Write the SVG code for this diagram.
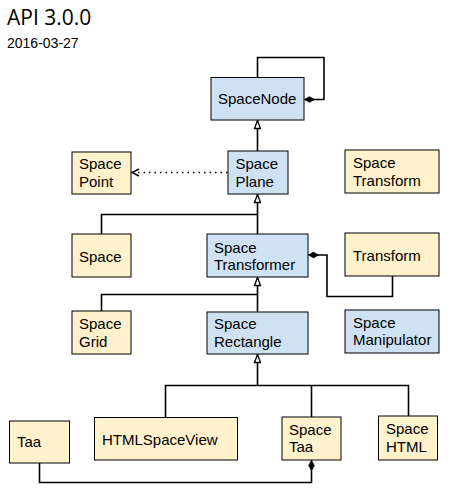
<svg xmlns="http://www.w3.org/2000/svg" width="457" height="491" viewBox="0 0 457 491">
<style>
.y{fill:#fff2cc;stroke:#000;stroke-width:1}
.b{fill:#cfe2f3;stroke:#000;stroke-width:1}
text{font-family:"Liberation Sans",Arial,sans-serif;font-size:15px;fill:#000}
.c{fill:none;stroke:#000;stroke-width:1.6}
.inh{marker-end:url(#tri)}
.comp{marker-end:url(#dia)}
.dot{fill:none;stroke:#000;stroke-width:1.6;stroke-dasharray:1.5 4;marker-end:url(#open)}
</style>
<defs>
<marker id="tri" markerUnits="userSpaceOnUse" markerWidth="10" markerHeight="10" viewBox="0 0 10 10" refX="9" refY="5" orient="auto">
<path d="M1,2 L9,5 L1,8 Z" fill="#fff" stroke="#000" stroke-width="1.3"/>
</marker>
<marker id="dia" markerUnits="userSpaceOnUse" markerWidth="12" markerHeight="10" viewBox="0 0 12 10" refX="11" refY="5" orient="auto">
<path d="M1,5 L6,2.2 L11,5 L6,7.8 Z" fill="#000" stroke="#000" stroke-width="0.8"/>
</marker>
<marker id="open" markerUnits="userSpaceOnUse" markerWidth="10" markerHeight="10" viewBox="0 0 10 10" refX="9" refY="5" orient="auto">
<path d="M2,1.5 L9,5 L2,8.5" fill="none" stroke="#000" stroke-width="1.5"/>
</marker>
</defs>

<text x="7" y="25" style="font-family:'Open Sans','DejaVu Sans',sans-serif;font-size:21px">API 3.0.0</text>
<text x="7" y="48" style="font-size:14px">2016-03-27</text>

<g id="connectors">
<path class="c comp" d="M257.5,77 V57.5 H324 V99.5 H304.5"/>
<path class="c inh" d="M257.5,151 V120.5"/>
<path class="dot" d="M227.5,172.5 H132"/>
<path class="c inh" d="M257.5,234 V194.5"/>
<path class="c" d="M101.5,234 V214.5 H257.5"/>
<path class="c comp" d="M392.5,276 V296.5 H327 V255 H308.5"/>
<path class="c inh" d="M257.5,312 V277.5"/>
<path class="c" d="M101.5,311 V294.5 H257.5"/>
<path class="c inh" d="M257.5,385.5 V354.5"/>
<path class="c" d="M165.5,417 V385.5 H408.5 V416"/>
<path class="c" d="M311.5,385.5 V417"/>
<path class="c comp" d="M39.5,463 V482.5 H311.5 V460.5"/>
</g>

<g id="SpaceNode"><rect class="b" x="211" y="77.5" width="93" height="42.5"/><text x="218" y="104">SpaceNode</text></g>
<g id="SpacePoint"><rect class="y" x="72" y="152" width="59" height="42"/><text x="79" y="169">Space</text><text x="79" y="187">Point</text></g>
<g id="SpacePlane"><rect class="b" x="228" y="151" width="60" height="43"/><text x="235.5" y="169">Space</text><text x="235.5" y="187">Plane</text></g>
<g id="SpaceTransform"><rect class="y" x="345" y="150" width="94" height="43"/><text x="353" y="168">Space</text><text x="353" y="186">Transform</text></g>
<g id="Space"><rect class="y" x="72" y="234" width="59" height="43"/><text x="79" y="261.5">Space</text></g>
<g id="SpaceTransformer"><rect class="b" x="207" y="234" width="101" height="43"/><text x="214" y="252.5">Space</text><text x="214" y="270">Transformer</text></g>
<g id="Transform"><rect class="y" x="345" y="233" width="94" height="43"/><text x="353" y="260.5">Transform</text></g>
<g id="SpaceGrid"><rect class="y" x="72" y="311" width="59" height="43"/><text x="79" y="329">Space</text><text x="79" y="346.5">Grid</text></g>
<g id="SpaceRectangle"><rect class="b" x="207" y="312" width="101" height="42"/><text x="214" y="329">Space</text><text x="214" y="346.5">Rectangle</text></g>
<g id="SpaceManipulator"><rect class="b" x="345" y="310" width="94" height="43"/><text x="353" y="328">Space</text><text x="353" y="345">Manipulator</text></g>
<g id="Taa"><rect class="y" x="9.5" y="421" width="60" height="42"/><text x="17" y="446.5">Taa</text></g>
<g id="HTMLSpaceView"><rect class="y" x="94.5" y="417.5" width="143" height="42.5"/><text x="102" y="445">HTMLSpaceView</text></g>
<g id="SpaceTaa"><rect class="y" x="282" y="417" width="59" height="43"/><text x="289" y="435">Space</text><text x="289" y="452">Taa</text></g>
<g id="SpaceHTML"><rect class="y" x="378.5" y="416" width="59" height="44"/><text x="386" y="434">Space</text><text x="386" y="451.5">HTML</text></g>
</svg>
